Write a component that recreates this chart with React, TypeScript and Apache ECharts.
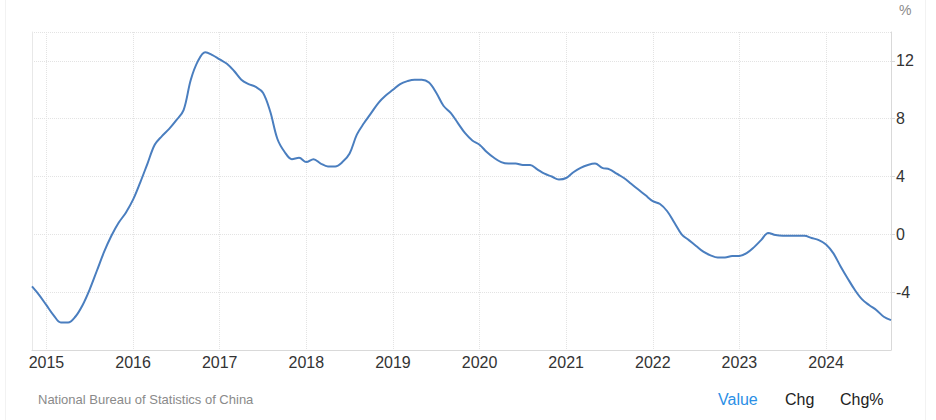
import React, { useEffect, useRef } from "react";
import * as echarts from "echarts";

// Monthly series, starting November 2014
const startYear = 2014;
const startMonth = 11;
const values = [
  // 2014 Nov-Dec
  -3.6, -4.2,
  // 2015
  -4.9, -5.6, -6.1, -6.1, -5.7, -4.9, -3.8, -2.5, -1.2, -0.1, 0.8, 1.5,
  // 2016
  2.4, 3.6, 4.9, 6.2, 6.8, 7.3, 7.9, 8.6, 10.7, 12.0, 12.6, 12.4,
  // 2017
  12.1, 11.8, 11.3, 10.7, 10.4, 10.2, 9.8, 8.5, 6.6, 5.7, 5.2, 5.3,
  // 2018
  5.0, 5.2, 4.9, 4.7, 4.7, 5.0, 5.6, 6.9, 7.7, 8.4, 9.1, 9.6,
  // 2019
  10.0, 10.4, 10.6, 10.7, 10.7, 10.5, 9.8, 8.9, 8.4, 7.7, 7.0, 6.5,
  // 2020
  6.2, 5.7, 5.3, 5.0, 4.9, 4.9, 4.8, 4.8, 4.5, 4.2, 4.0, 3.8,
  // 2021
  3.9, 4.3, 4.6, 4.8, 4.9, 4.6, 4.5, 4.2, 3.9, 3.5, 3.1, 2.7,
  // 2022
  2.3, 2.1, 1.6, 0.8, 0.0, -0.4, -0.8, -1.2, -1.45, -1.6, -1.6, -1.5,
  // 2023
  -1.5, -1.3, -0.9, -0.4, 0.1, -0.05, -0.1, -0.1, -0.1, -0.1, -0.25, -0.4,
  // 2024 Jan-Oct
  -0.7, -1.3, -2.2, -3.05, -3.85, -4.5, -4.9, -5.25, -5.7, -5.93,
];
const yearTicks = [2015, 2016, 2017, 2018, 2019, 2020, 2021, 2022, 2023, 2024];
const yMin = -8;
const yMax = 14;
const yStep = 4;
const unitLabel = "%";
const sourceText = "National Bureau of Statistics of China";
const tabs = ["Value", "Chg", "Chg%"];

const FONT = "'Liberation Sans', Arial, Helvetica, sans-serif";

export default function App() {
  const ref = useRef<HTMLDivElement>(null);

  useEffect(() => {
    if (!ref.current) return;
    const chart = echarts.init(ref.current, null, { renderer: "svg" });

    const data = values.map((v, i) => {
      const m = startMonth - 1 + i;
      return [startYear + Math.floor(m / 12) + (m % 12) / 12, v];
    });

    const gridLine = "#e3e3e3";
    const axisLine = "#d9d9d9";

    chart.setOption({
      animation: false,
      textStyle: { fontFamily: FONT },
      grid: { left: 32, right: 45, top: 32, bottom: 70, containLabel: false },
      xAxis: {
        type: "value",
        min: data[0][0],
        max: data[data.length - 1][0],
        axisLine: { show: true, onZero: false, lineStyle: { color: axisLine, width: 1 } },
        axisTick: { show: false, customValues: yearTicks },
        axisLabel: {
          customValues: yearTicks,
          color: "#333",
          fontSize: 16,
          margin: 4,
          fontFamily: FONT,
          formatter: (v: number) => String(Math.round(v)),
        },
        splitLine: { show: true, lineStyle: { color: gridLine, type: "dotted", width: 1 } },
      },
      yAxis: [
        {
          type: "value",
          position: "right",
          min: yMin,
          max: yMax,
          interval: yStep,
          axisLine: { show: true, lineStyle: { color: axisLine, width: 1 } },
          axisTick: { show: true, length: 4, lineStyle: { color: axisLine } },
          axisLabel: {
            color: "#333",
            fontSize: 16,
            margin: 5,
            fontFamily: FONT,
            showMinLabel: false,
            showMaxLabel: false,
          },
          splitLine: { show: true, lineStyle: { color: gridLine, type: "dotted", width: 1 } },
        },
        {
          type: "value",
          position: "left",
          min: yMin,
          max: yMax,
          interval: yStep,
          axisLine: { show: true, lineStyle: { color: "#e8e8e8", width: 1 } },
          axisTick: { show: false },
          axisLabel: { show: false },
          splitLine: { show: false },
        },
      ],
      series: [
        {
          type: "line",
          data,
          yAxisIndex: 0,
          smooth: 0.35,
          showSymbol: false,
          symbol: "none",
          lineStyle: { color: "#4a7ebf", width: 2 },
          itemStyle: { color: "#4a7ebf" },
        },
      ],
      graphic: [
        { type: "line", shape: { x1: 5.5, y1: 0, x2: 5.5, y2: 420 }, style: { stroke: "#f2f2f2", lineWidth: 1 } },
        { type: "line", shape: { x1: 925.5, y1: 0, x2: 925.5, y2: 420 }, style: { stroke: "#f2f2f2", lineWidth: 1 } },
        {
          type: "text",
          left: 899,
          top: 3,
          style: { text: unitLabel, fill: "#8a8a8a", font: `14px ${FONT}` },
        },
        {
          type: "text",
          left: 38,
          top: 393,
          style: { text: sourceText, fill: "#8a8a8a", font: `13px ${FONT}` },
        },
        {
          type: "text",
          left: 718,
          top: 391,
          style: { text: tabs[0], fill: "#2b8fe6", font: `16px ${FONT}` },
        },
        {
          type: "text",
          left: 785,
          top: 391,
          style: { text: tabs[1], fill: "#222", font: `16px ${FONT}` },
        },
        {
          type: "text",
          left: 840,
          top: 391,
          style: { text: tabs[2], fill: "#222", font: `16px ${FONT}` },
        },
      ],
    });

    return () => chart.dispose();
  }, []);

  return (
    <div
      ref={ref}
      style={{ position: "absolute", left: 0, top: 0, width: 936, height: 420, background: "#fff" }}
    />
  );
}
